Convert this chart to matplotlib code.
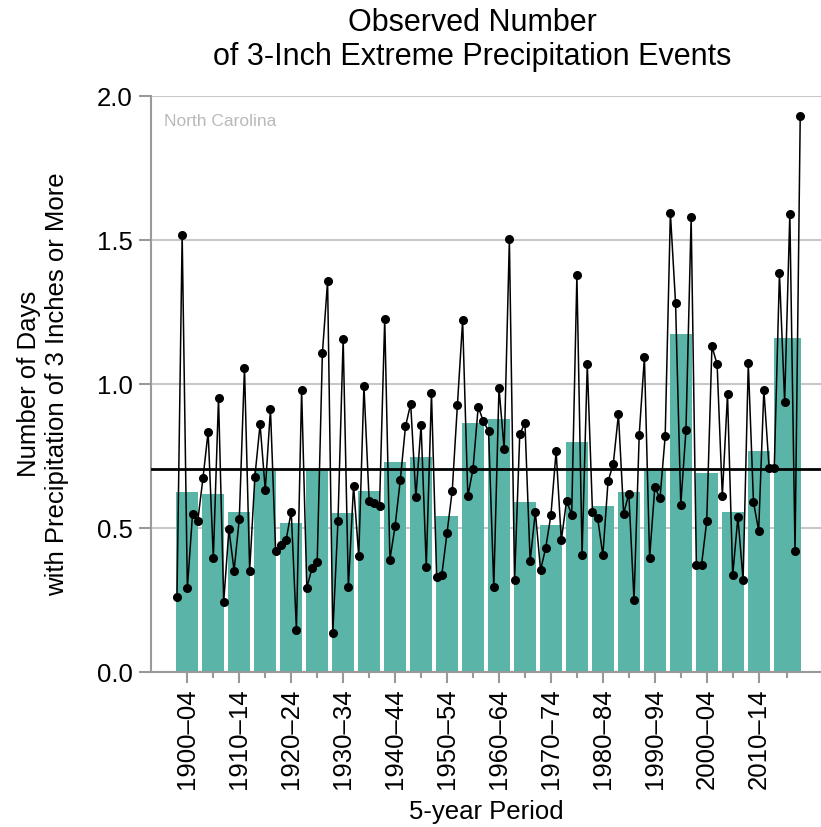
import numpy as np
import matplotlib
matplotlib.use("Agg")
import matplotlib.pyplot as plt

plt.rcParams['font.family'] = ['Liberation Sans', 'DejaVu Sans']

# yearly values 1900-2020
years = list(range(1900, 2021))
yearly = [0.259, 1.518, 0.290, 0.549, 0.524, 0.672, 0.834, 0.395, 0.953, 0.244,
          0.495, 0.352, 0.532, 1.057, 0.352, 0.678, 0.860, 0.632, 0.913, 0.419,
          0.441, 0.457, 0.557, 0.147, 0.978, 0.293, 0.360, 0.383, 1.107, 1.357,
          0.134, 0.524, 1.157, 0.294, 0.647, 0.402, 0.994, 0.595, 0.586, 0.575,
          1.226, 0.390, 0.507, 0.667, 0.853, 0.931, 0.606, 0.858, 0.366, 0.968,
          0.329, 0.338, 0.483, 0.630, 0.928, 1.221, 0.610, 0.705, 0.921, 0.870,
          0.837, 0.294, 0.987, 0.773, 1.502, 0.318, 0.826, 0.865, 0.384, 0.557,
          0.354, 0.431, 0.545, 0.767, 0.457, 0.594, 0.546, 1.378, 0.406, 1.068,
          0.557, 0.534, 0.405, 0.663, 0.721, 0.895, 0.550, 0.619, 0.249, 0.823,
          1.094, 0.397, 0.641, 0.603, 0.819, 1.594, 1.280, 0.581, 0.839, 1.579,
          0.372, 0.372, 0.524, 1.131, 1.068, 0.611, 0.964, 0.336, 0.538, 0.319,
          1.072, 0.590, 0.491, 0.980, 0.710, 0.707, 1.385, 0.938, 1.592, 0.420,
          1.929]

# 5-year period averages (last period is 2015-2020)
period_start = list(range(1900, 2020, 5))
period_end = list(range(1904, 2015, 5)) + [2020]
period_avg = [0.626, 0.618, 0.557, 0.701, 0.516, 0.700, 0.551, 0.630, 0.728, 0.745,
              0.542, 0.863, 0.877, 0.589, 0.510, 0.797, 0.575, 0.626, 0.706, 1.174,
              0.692, 0.554, 0.769, 1.161]

long_term_avg = 0.704

labels = ['%d–%02d' % (s, e % 100) for s, e in zip(period_start, period_end)]

fig = plt.figure(figsize=(8.21, 8.27), dpi=100)
ax = fig.add_axes([151 / 821, 155 / 827, 670 / 821, 576 / 827])

# bars
centers = [(s + e) / 2 for s, e in zip(period_start, period_end)]
widths = [e - s + 1 - 0.8 for s, e in zip(period_start, period_end)]
ax.bar(centers, period_avg, width=widths, color='#5ab4a8', zorder=2)

# long-term average
ax.axhline(long_term_avg, color='black', lw=2, zorder=3)

# yearly line + dots
ax.plot(years, yearly, color='black', lw=1.1, marker='o', markersize=5.5, zorder=4)

ax.set_xlim(1895, 2024)
ax.set_ylim(0, 2.0)
ax.set_yticks([0, 0.5, 1.0, 1.5, 2.0])
ax.set_yticklabels(['0.0', '0.5', '1.0', '1.5', '2.0'])
ax.yaxis.grid(True, color='#c8c8c8', lw=1.5, zorder=0)
ax.set_axisbelow(True)

ax.set_xticks(centers[::2])
ax.set_xticklabels(labels[::2], rotation=90)
ax.set_xticks(centers[1::2], minor=True)

for s in ['top', 'right']:
    ax.spines[s].set_visible(False)
for s in ['left', 'bottom']:
    ax.spines[s].set_color('#999999')
    ax.spines[s].set_linewidth(1.5)

ax.tick_params(axis='y', length=9, width=1.5, color='#999999', labelsize=18.5, pad=4)
ax.tick_params(axis='x', which='major', length=8, width=1.5, color='#999999', labelsize=18.5, pad=4)
ax.tick_params(axis='x', which='minor', length=4, width=1.5, color='#999999')

ax.set_xlabel('5-year Period', fontsize=18.5, labelpad=8)
ax.set_ylabel('Number of Days\nwith Precipitation of 3 Inches or More', fontsize=18.5, labelpad=20)

ax.text(0.02, 0.955, 'North Carolina', transform=ax.transAxes, color='#b9b9b9',
        fontsize=12.5, va='center', ha='left')

fig.text(472 / 821, 1 - 40 / 827, 'Observed Number\nof 3-Inch Extreme Precipitation Events',
         ha='center', va='center', fontsize=22)

fig.savefig('out.png', dpi=100)
